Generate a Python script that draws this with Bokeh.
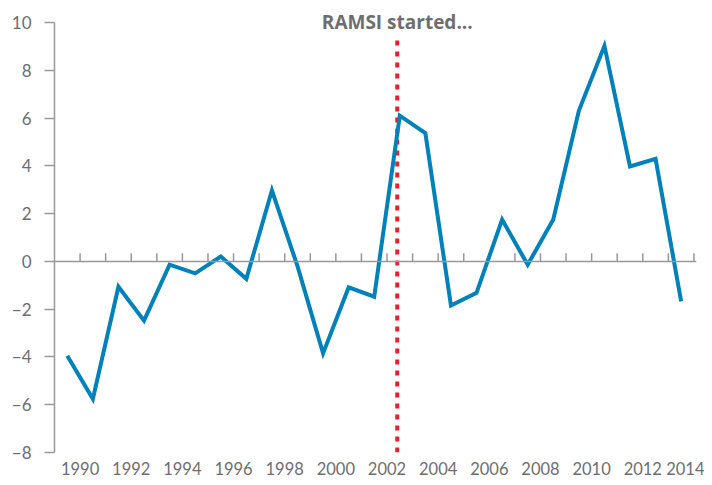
from bokeh.plotting import figure
from bokeh.models import Span, Label, FixedTicker, LinearAxis
from bokeh.embed import file_html
from bokeh.resources import INLINE

# Data
years = list(range(1990, 2015))
values = [-3.95, -5.76, -1.06, -2.48, -0.14, -0.50, 0.20, -0.73, 2.97, -0.20,
          -3.85, -1.09, -1.48, 6.10, 5.37, -1.85, -1.32, 1.75, -0.14, 1.75,
          6.30, 9.02, 3.97, 4.29, -1.67]
x_tick_labels = [str(y) for y in range(1990, 2015, 2)]
y_ticks = list(range(-8, 11, 2))
ramsi_year = 2002.4
ramsi_text = "RAMSI started..."

# annual values plotted at mid-year
xs = [y - 0.5 for y in years]

GRAY = "#999999"
TXT = "#6d6e71"
FONT = "Lato"

p = figure(width=704, height=477, x_range=(1989, 2014.1), y_range=(-8, 10.92),
           output_backend="svg", toolbar_location=None,
           x_axis_location=None, y_axis_location=None)
p.min_border_left = 54
p.min_border_right = 8
p.min_border_top = 0
p.min_border_bottom = 25
p.outline_line_color = None
p.xgrid.visible = False
p.ygrid.visible = False
p.background_fill_color = "white"
p.border_fill_color = "white"

# Left axis
yax = LinearAxis(ticker=FixedTicker(ticks=y_ticks), bounds=(-8, 10))
yax.axis_line_color = GRAY
yax.axis_line_width = 1.5
yax.major_tick_line_color = GRAY
yax.major_tick_line_width = 1.5
yax.major_tick_out = 10
yax.major_tick_in = 0
yax.minor_tick_line_color = None
yax.major_label_standoff = 13
yax.major_label_text_font = FONT
yax.major_label_text_font_size = "17px"
yax.major_label_text_color = TXT
yax.major_label_overrides = {float(t): (str(t) if t >= 0 else "\u2212" + str(-t)) for t in y_ticks}
p.add_layout(yax, "left")

# Bottom labels axis (no line / ticks)
label_pos = [int(s) for s in x_tick_labels]
xax = LinearAxis(ticker=FixedTicker(ticks=label_pos))
xax.axis_line_color = None
xax.major_tick_line_color = None
xax.minor_tick_line_color = None
xax.major_tick_out = 0
xax.major_tick_in = 0
xax.major_label_standoff = 9
xax.major_label_text_font = FONT
xax.major_label_text_font_size = "16.5px"
xax.major_label_text_color = TXT
p.add_layout(xax, "below")

# Zero line with tick marks
p.add_layout(Span(location=0, dimension="width", line_color=GRAY, line_width=1.5))
tick_h = 0.34
p.segment(x0=years, y0=[0] * len(years), x1=years, y1=[tick_h] * len(years),
          line_color=GRAY, line_width=1.5)

# RAMSI marker
p.segment(x0=[ramsi_year], y0=[-8], x1=[ramsi_year], y1=[9.25],
          line_color="#e8202a", line_width=4, line_dash="5 6")
p.add_layout(Label(x=ramsi_year, y=10, text=ramsi_text, text_align="center",
                   text_baseline="middle", text_font="Open Sans",
                   text_font_style="bold", text_font_size="19px", text_color=TXT))

# Series line
p.line(xs, values, line_color="#0181ba", line_width=4, line_join="miter")

open("out.html", "w").write(file_html(p, INLINE))
